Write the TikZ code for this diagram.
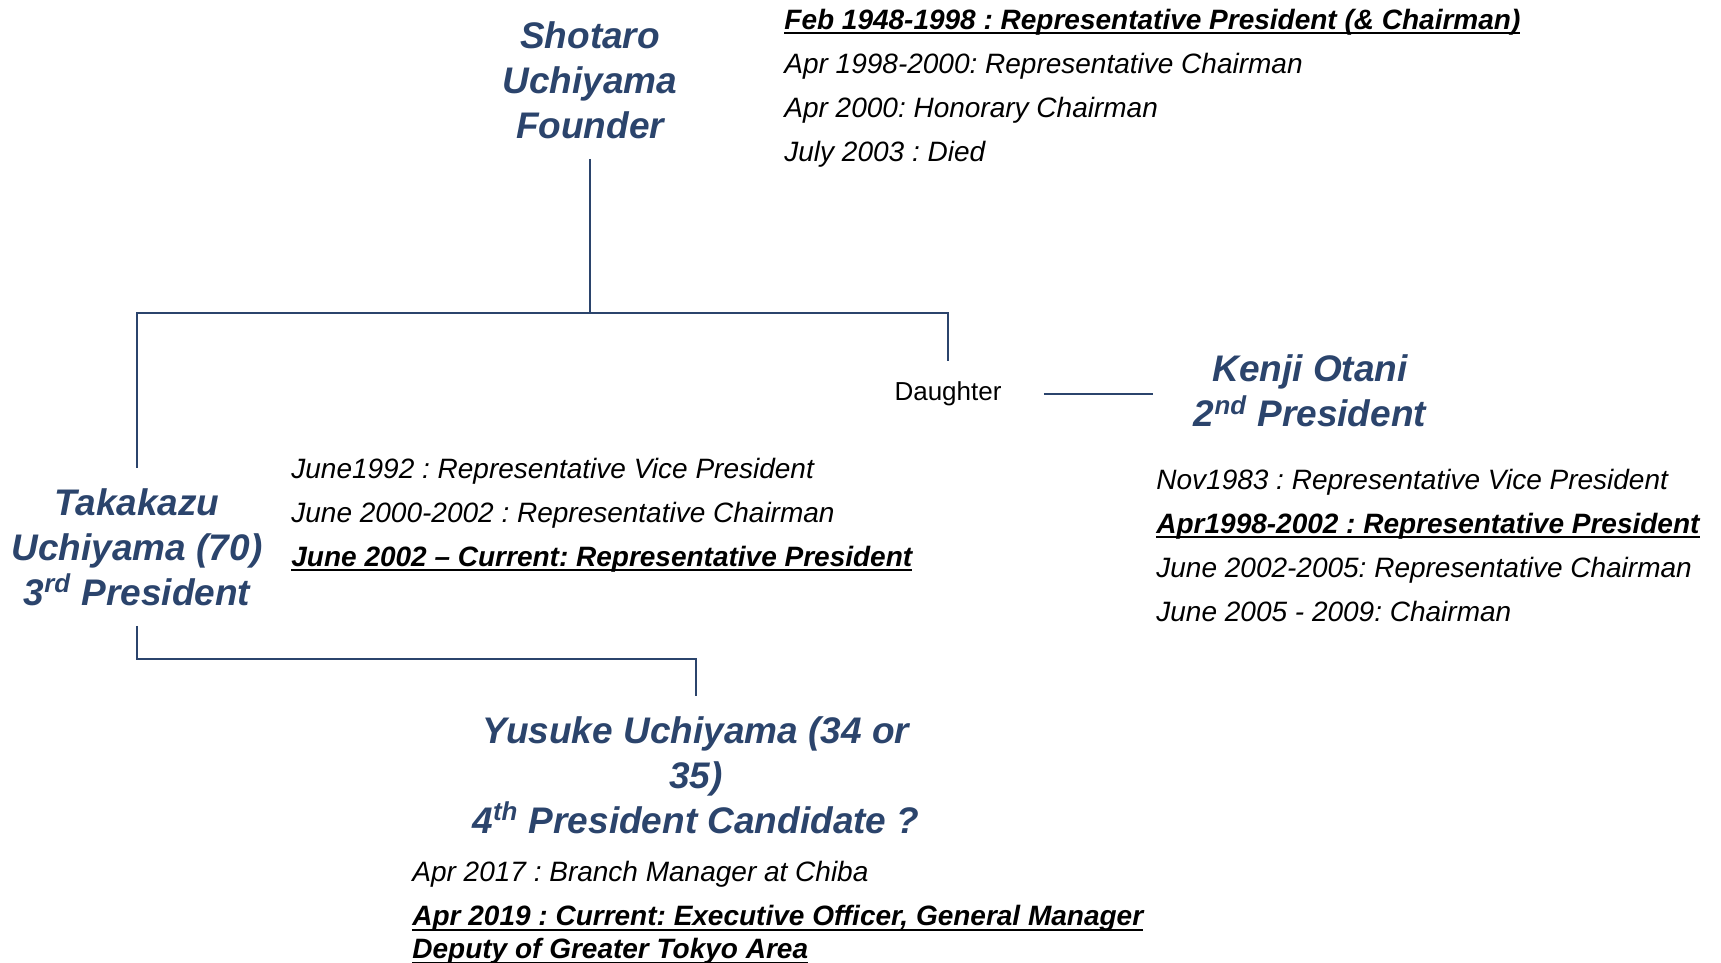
\documentclass[tikz,border=0pt]{standalone}
\usepackage{fontspec}
\setmainfont{Liberation Sans}
\usetikzlibrary{positioning}
\definecolor{headblue}{HTML}{2B446C}
\newcommand\ulined[1]{\setbox0\hbox{#1}\rlap{\rule[-2.4pt]{\wd0}{0.9pt}}\box0}
\frenchspacing

\begin{document}
\begin{tikzpicture}[
	x=0.5pt, y=-0.5pt,
	person/.style = {align=center, text=headblue, inner xsep=20.5pt, inner ysep=10pt, font=\fontsize{18.5}{22.5}\selectfont\bfseries\itshape},
	roles/.style = {align=left, anchor=west, inner sep=0pt, font=\fontsize{14}{22}\selectfont\itshape},
	link/.style = {draw=headblue, line width=0.55pt},
	spouse/.style = {draw=headblue, line width=1.1pt}
]
\useasboundingbox (0,0) rectangle (1721,963);

\node[person] (founder) at (590,80) {Shotaro\\Uchiyama\\Founder};
\node[person] (takakazu) at (137,547) {Takakazu\\Uchiyama (70)\\3\textsuperscript{rd} President};
\node[person] (kenji) at (1310,391) {Kenji Otani\\2\textsuperscript{nd} President};
\node[person] (yusuke) at (696,775) {Yusuke Uchiyama (34 or\\35)\\4\textsuperscript{th} President Candidate ?};
\node[inner xsep=21pt, inner ysep=10pt, font=\fontsize{13}{16}\selectfont] (daughter) at (948,394) {Daughter};

\node[roles] (founder roles) at (784,88) {\ulined{\bfseries Feb 1948-1998 : Representative President (\& Chairman)}\\Apr 1998-2000: Representative Chairman\\Apr 2000: Honorary Chairman\\July 2003 : Died};
\node[roles] (takakazu roles) at (291,515) {June1992 : Representative Vice President\\June 2000-2002 : Representative Chairman\\\ulined{\bfseries June 2002 – Current: Representative President}};
\node[roles] (kenji roles) at (1156,545) {Nov1983 : Representative Vice President\\\ulined{\bfseries Apr1998-2002 : Representative President}\\June 2002-2005: Representative Chairman\\June 2005 - 2009: Chairman};
\node[roles] (yusuke roles) at (412,913) {Apr 2017 : Branch Manager at Chiba\\\ulined{\bfseries Apr 2019 : Current: Executive Officer, General Manager}\\[-5.5pt]\ulined{\bfseries Deputy of Greater Tokyo Area}};

\coordinate (split) at (founder.south |- 0,313);
\coordinate (turn) at (takakazu.south |- 0,659);

\draw[link] (founder.south) -- (split);
\draw[link] (split) -| (takakazu.north);
\draw[link] (split) -| (daughter.north);
\draw[link] (takakazu.south) -- (turn) -| (yusuke.north);
\draw[spouse] (daughter.east) -- (daughter.east -| kenji.west);

\end{tikzpicture}
\end{document}
